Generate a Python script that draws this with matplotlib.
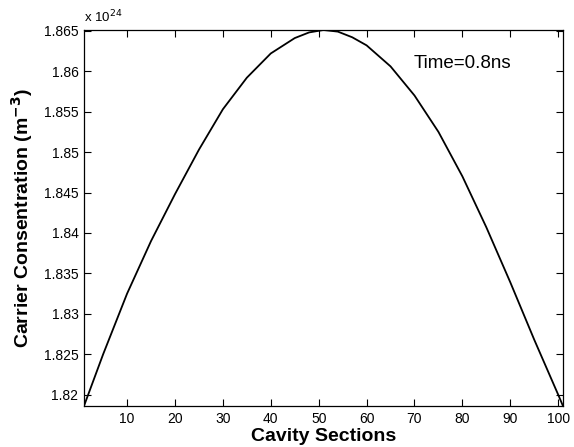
import matplotlib.pyplot as plt
from matplotlib.ticker import FuncFormatter

plt.rcParams['font.family'] = ['Liberation Sans', 'DejaVu Sans']

# valores (concentracion en unidades de 1e24 m^-3)
sections = [1, 5, 10, 15, 20, 25, 30, 35, 40, 45, 48, 51, 54, 57, 60, 65, 70, 75, 80, 85, 90, 95, 100, 101]
carrier_1e24 = [1.8186, 1.8250, 1.8325, 1.8390, 1.8448, 1.8503, 1.8553, 1.8592, 1.8622, 1.8641,
                1.8648, 1.8651, 1.8649, 1.8642, 1.8632, 1.8606, 1.8570, 1.8525, 1.8470, 1.8407,
                1.8339, 1.8268, 1.8200, 1.8186]
x_ticks = [10, 20, 30, 40, 50, 60, 70, 80, 90, 100]
y_ticks = [1.82, 1.825, 1.83, 1.835, 1.84, 1.845, 1.85, 1.855, 1.86, 1.865]

fig = plt.figure(figsize=(5.74, 4.47), dpi=100)
ax = fig.add_axes([0.1463, 0.0917, 0.8345, 0.8412])

ax.plot(sections, carrier_1e24, color='black', linewidth=1.3)

ax.set_xlim(1, 101)
ax.set_ylim(min(carrier_1e24), max(carrier_1e24))
ax.set_xticks(x_ticks)
ax.set_yticks(y_ticks)
ax.yaxis.set_major_formatter(FuncFormatter(lambda v, p: '%g' % round(v, 4)))
ax.tick_params(direction='in', top=True, right=True, length=5, width=0.8, labelsize=10, pad=4)
for s in ax.spines.values():
    s.set_linewidth(0.9)

ax.set_xlabel('Cavity Sections', fontsize=14, fontweight='bold', labelpad=2)
ax.set_ylabel('Carrier Consentration (m$^{\\mathbf{-3}}$)', fontsize=14, fontweight='bold', labelpad=6)
ax.text(0.0, 1.012, 'x 10$^{24}$', transform=ax.transAxes, fontsize=9.5, ha='left', va='bottom')
ax.text(69.8, 1.8609, 'Time=0.8ns', fontsize=13.5, ha='left', va='center')

fig.savefig('out.png', dpi=100)
